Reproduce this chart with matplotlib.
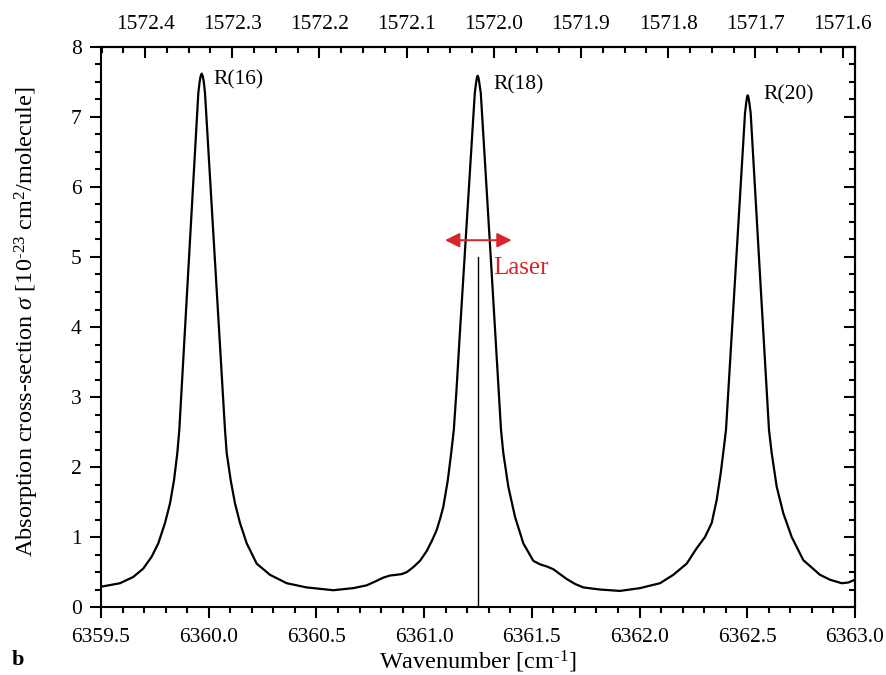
import numpy as np
import matplotlib
matplotlib.use("Agg")
import matplotlib.pyplot as plt
from matplotlib.ticker import MultipleLocator, FixedLocator, FormatStrFormatter

plt.rcParams['font.family'] = ['Liberation Serif', 'DejaVu Serif']
plt.rcParams['mathtext.fontset'] = 'custom'
plt.rcParams['mathtext.rm'] = 'Liberation Serif'
plt.rcParams['mathtext.it'] = 'Liberation Serif:italic'
plt.rcParams['mathtext.bf'] = 'Liberation Serif:bold'

# Spectrum: wavenumber [cm-1], cross-section [1e-23 cm2/molecule]
wavenumber = [
    6359.5000, 6359.5882, 6359.6499, 6359.6964, 6359.7353, 6359.7660, 6359.7971, 6359.8203,
    6359.8389, 6359.8542, 6359.8635, 6359.9080, 6359.9517, 6359.9577, 6359.9623, 6359.9674,
    6359.9725, 6359.9772, 6359.9828, 6360.0287, 6360.0756, 6360.0835, 6360.1021, 6360.1220,
    6360.1452, 6360.1763, 6360.2227, 6360.2845, 6360.3620, 6360.4548, 6360.5783, 6360.6712,
    6360.7334, 6360.7765, 6360.8104, 6360.8415, 6360.8694, 6360.8958, 6360.9204, 6360.9497,
    6360.9808, 6361.0119, 6361.0365, 6361.0583, 6361.0759, 6361.0889, 6361.1098, 6361.1256,
    6361.1377, 6361.1502, 6361.1646, 6361.2351, 6361.2407, 6361.2449, 6361.2486, 6361.2523,
    6361.2565, 6361.2630, 6361.3099, 6361.3568, 6361.3675, 6361.3907, 6361.4217, 6361.4603,
    6361.5067, 6361.5378, 6361.5689, 6361.5996, 6361.6306, 6361.6618, 6361.7003, 6361.7388,
    6361.8163, 6361.9091, 6362.0020, 6362.0948, 6362.1566, 6362.2188, 6362.2652, 6362.3037,
    6362.3348, 6362.3580, 6362.3766, 6362.3919, 6362.4012, 6362.4430, 6362.4894, 6362.4950,
    6362.4987, 6362.5019, 6362.5056, 6362.5098, 6362.5159, 6362.5604, 6362.6008, 6362.6133,
    6362.6365, 6362.6672, 6362.7062, 6362.7600, 6362.8375, 6362.8840, 6362.9383, 6362.9689,
    6363.0000,
]
cross_section = [
    0.29, 0.34, 0.43, 0.55, 0.72, 0.91, 1.20, 1.48,
    1.81, 2.20, 2.53, 4.96, 7.34, 7.50, 7.58, 7.62,
    7.58, 7.50, 7.34, 4.96, 2.53, 2.20, 1.81, 1.48,
    1.20, 0.91, 0.62, 0.46, 0.34, 0.28, 0.24, 0.27,
    0.31, 0.37, 0.42, 0.45, 0.46, 0.47, 0.50, 0.57,
    0.66, 0.80, 0.95, 1.10, 1.28, 1.43, 1.81, 2.20,
    2.53, 3.10, 3.85, 7.34, 7.48, 7.56, 7.59, 7.56,
    7.48, 7.34, 4.96, 2.53, 2.20, 1.72, 1.29, 0.91,
    0.66, 0.61, 0.58, 0.54, 0.47, 0.40, 0.33, 0.28,
    0.25, 0.23, 0.27, 0.34, 0.46, 0.62, 0.84, 1.00,
    1.20, 1.53, 1.91, 2.29, 2.53, 4.67, 7.05, 7.20,
    7.28, 7.31, 7.28, 7.20, 7.05, 4.67, 2.53, 2.20,
    1.72, 1.34, 1.00, 0.67, 0.46, 0.39, 0.34, 0.35,
    0.39,
]

line_names = ["R(16)", "R(18)", "R(20)"]
line_label_x = [6360.022, 6361.321, 6362.574]
line_label_y = [7.53, 7.46, 7.31]

laser_position = 6361.25
laser_height = 5.0
laser_scan = [6361.097, 6361.406]
laser_arrow_y = 5.24

top_ticks_nm = [1572.4, 1572.3, 1572.2, 1572.1, 1572.0, 1571.9, 1571.8, 1571.7, 1571.6]

red = '#d7262b'
fs = 15.5
lfs = 17.5

fig = plt.figure(figsize=(8.86, 6.75), dpi=100)
ax = fig.add_axes([0.114, 0.1007, 0.851, 0.8297])

ax.plot(wavenumber, cross_section, color='black', lw=1.6, solid_joinstyle='round')
ax.plot([laser_position, laser_position], [0, laser_height], color='black', lw=1.0)
ax.annotate('', xy=(laser_scan[0], laser_arrow_y), xytext=(laser_scan[1], laser_arrow_y),
            arrowprops=dict(arrowstyle='<|-|>', color=red, lw=1.4, mutation_scale=22,
                            shrinkA=0, shrinkB=0))
ax.text(6361.32, 4.84, 'Laser', color=red, fontsize=18, ha='left', va='center')

for name, lx, ly in zip(line_names, line_label_x, line_label_y):
    ax.text(lx, ly, name, fontsize=fs, ha='left', va='center')

ax.set_xlim(6359.5, 6363.0)
ax.set_ylim(0, 8)
ax.xaxis.set_major_locator(MultipleLocator(0.5))
ax.xaxis.set_minor_locator(MultipleLocator(0.1))
ax.xaxis.set_major_formatter(FormatStrFormatter('%.1f'))
ax.yaxis.set_major_locator(MultipleLocator(1))
ax.yaxis.set_minor_locator(MultipleLocator(0.25))

for s in ax.spines.values():
    s.set_linewidth(1.5)

ax.tick_params(which='major', direction='out', length=8, width=1.5, labelsize=fs)
ax.tick_params(which='minor', direction='out', length=4.5, width=1.5)
ax.tick_params(axis='x', which='major', pad=7)
ax.tick_params(axis='y', which='major', pad=6)

# right axis with inward ticks, no labels
secy = ax.secondary_yaxis('right')
secy.yaxis.set_major_locator(MultipleLocator(1))
secy.yaxis.set_minor_locator(MultipleLocator(0.25))
secy.tick_params(which='major', direction='in', length=8, width=1.5, labelright=False)
secy.tick_params(which='minor', direction='in', length=4.5, width=1.5)
secy.spines['right'].set_linewidth(1.5)

# top axis in wavelength [nm]
secx = ax.secondary_xaxis('top', functions=(lambda x: 1e7 / x, lambda x: 1e7 / x))
secx.xaxis.set_major_locator(FixedLocator(top_ticks_nm))
secx.xaxis.set_minor_locator(FixedLocator(list(np.arange(1571.575, 1572.475, 0.025))))
secx.xaxis.set_major_formatter(FormatStrFormatter('%.1f'))
secx.tick_params(which='major', direction='in', length=8, width=1.5, labelsize=fs, pad=9)
secx.tick_params(which='minor', direction='in', length=4.5, width=1.5)
secx.spines['top'].set_linewidth(1.5)

ax.set_xlabel('Wavenumber [cm$^{\u20101}$]', fontsize=lfs)
ax.xaxis.label.set_va('center')
ax.xaxis.set_label_coords(0.5, -0.098)
ax.set_ylabel('Absorption cross-section $\\it{\\sigma}$ [10$^{\u201023}$ cm$^{2}$/molecule]',
              fontsize=lfs)
ax.yaxis.label.set_va('center')
ax.yaxis.set_label_coords(-0.098, 0.51)

fig.text(0.02, 0.022, 'b', fontsize=16, fontweight='bold', ha='center', va='center')

fig.savefig('out.png', dpi=100)
